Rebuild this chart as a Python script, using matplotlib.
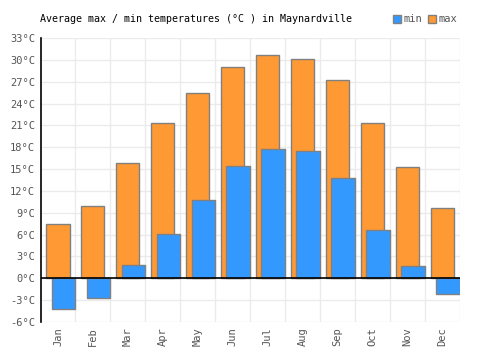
import matplotlib
matplotlib.use("Agg")
import matplotlib.pyplot as plt
from matplotlib.patches import Patch
import numpy as np

# Monthly averages for Maynardville (°C)
months = ["Jan", "Feb", "Mar", "Apr", "May", "Jun", "Jul", "Aug", "Sep", "Oct", "Nov", "Dec"]
temp_max = [7.4, 10.0, 15.8, 21.3, 25.4, 29.1, 30.7, 30.2, 27.2, 21.4, 15.3, 9.6]
temp_min = [-4.2, -2.7, 1.8, 6.1, 10.8, 15.5, 17.8, 17.5, 13.8, 6.6, 1.7, -2.2]
yticks = list(range(-6, 34, 3))

plt.rcParams["font.family"] = ["DejaVu Sans Mono"]

orange = "#ff9933"
blue = "#3399ff"
edge = "#808080"
grey_txt = "#555555"

fig = plt.figure(figsize=(5, 3.5), dpi=100)
ax = fig.add_axes([0.081, 0.08, 0.839, 0.811])

x = np.arange(len(months))
ax.bar(x, temp_max, width=0.66, color=orange, edgecolor=edge, linewidth=1, zorder=2)
ax.bar(x - 0.18, temp_min, width=0.68, align="edge", color=blue, edgecolor=edge, linewidth=1, zorder=3)

ax.set_xlim(-0.5, len(months) - 0.5)
ax.set_ylim(-6, 33)
ax.set_yticks(yticks)
ax.set_yticklabels([f"{t}°C" for t in yticks], color=grey_txt, fontsize=7.5)
ax.set_xticks(x)
ax.set_xticklabels(months, rotation=90, color=grey_txt, fontsize=7.5)
ax.tick_params(length=0, pad=4)

# grid: horizontal at ticks, vertical at category boundaries
for t in yticks:
    ax.axhline(t, color="#ebebeb", linewidth=1, zorder=0)
for b in np.arange(0.5, len(months), 1):
    ax.axvline(b, color="#ebebeb", linewidth=1, zorder=0)
ax.axhline(0, color="black", linewidth=1.2, zorder=4)

for s in ["top", "right", "bottom"]:
    ax.spines[s].set_visible(False)
ax.spines["left"].set_color("black")
ax.spines["left"].set_linewidth(1.2)

fig.text(0.08, 0.945, "Average max / min temperatures (°C ) in Maynardville",
         fontsize=7.2, color="black", va="center", ha="left")

handles = [Patch(facecolor=blue, edgecolor=edge, label="min"),
           Patch(facecolor=orange, edgecolor=edge, label="max")]
leg = fig.legend(handles=handles, loc="center right", bbox_to_anchor=(0.925, 0.945), ncol=2,
                 frameon=False, fontsize=7.5, handlelength=0.8, handleheight=0.8,
                 handletextpad=0.2, columnspacing=0.6, borderpad=0)
for t in leg.get_texts():
    t.set_color(grey_txt)

fig.savefig("out.png", dpi=100)
